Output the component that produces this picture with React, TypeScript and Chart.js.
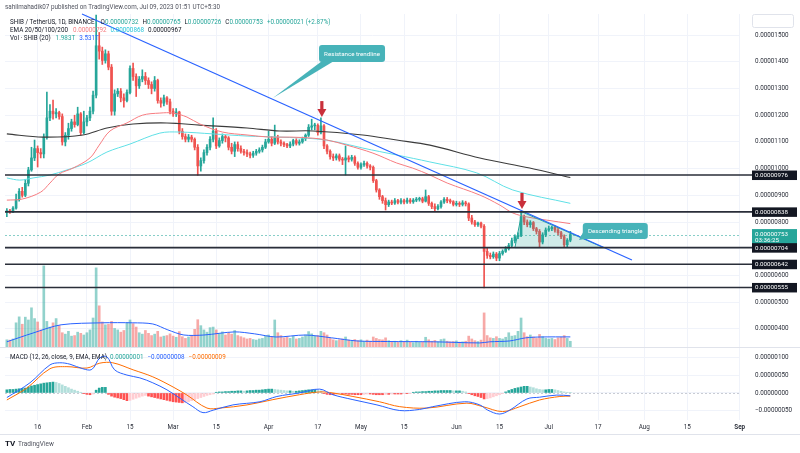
import React, { useEffect, useRef } from 'react';
import { Chart, registerables } from 'chart.js';

Chart.register(...registerables);

// Day index = days since 2023-01-01 (0 = Jan 1). First candle: Jan 6.
const FIRST_DAY = 5;

// Prices in units of 1e-8 USDT
const opens = [
  838, 842, 838, 852, 885, 915, 900, 945, 995, 1040,
  1075, 1060, 1055, 1118, 1190, 1215, 1205, 1210, 1195, 1100,
  1125, 1150, 1175, 1165, 1205, 1135, 1175, 1190, 1215, 1275,
  1460, 1440, 1405, 1430, 1380, 1215, 1280, 1290, 1265, 1255,
  1285, 1375, 1345, 1310, 1335, 1345, 1330, 1315, 1300, 1330,
  1255, 1245, 1265, 1250, 1215, 1205, 1212, 1140, 1120, 1110,
  1118, 1110, 1080, 1010, 1030, 1060, 1080, 1110, 1140, 1085,
  1105, 1120, 1115, 1080, 1065, 1090, 1075, 1065, 1060, 1055,
  1050, 1058, 1065, 1070, 1080, 1100, 1110, 1095, 1115, 1100,
  1095, 1090, 1085, 1092, 1105, 1095, 1100, 1112, 1125, 1155,
  1160, 1162, 1135, 1160, 1085, 1065, 1045, 1040, 1048, 1035,
  1032, 1040, 1035, 1042, 1020, 1005, 1015, 1020, 1010, 1005,
  955, 920, 895, 880, 865, 875, 871, 880, 874, 880,
  875, 882, 876, 882, 885, 887, 878, 895, 870, 858,
  850, 858, 875, 885, 880, 876, 866, 870, 866, 872,
  868, 815, 800, 790, 796, 784, 690, 675, 670, 680,
  665, 682, 690, 700, 712, 730, 745, 750, 820, 800,
  790, 798, 775, 765, 725, 752, 770, 775, 780, 770,
  760, 745, 715, 732,
];
const highs = [
  850, 848, 858, 905, 925, 930, 960, 1005, 1080, 1107,
  1085, 1075, 1130, 1287, 1240, 1257, 1225, 1215, 1205, 1135,
  1170, 1185, 1200, 1230, 1210, 1215, 1200, 1230, 1290, 1575,
  1510, 1455, 1445, 1440, 1390, 1295, 1300, 1300, 1280, 1295,
  1385, 1395, 1355, 1345, 1370, 1360, 1340, 1325, 1345, 1335,
  1265, 1275, 1270, 1260, 1225, 1225, 1215, 1150, 1130, 1128,
  1125, 1115, 1090, 1040, 1070, 1090, 1120, 1190, 1150, 1115,
  1130, 1125, 1120, 1095, 1100, 1100, 1085, 1072, 1070, 1062,
  1065, 1072, 1078, 1088, 1110, 1140, 1120, 1163, 1125, 1108,
  1100, 1095, 1100, 1110, 1112, 1108, 1118, 1130, 1165, 1185,
  1170, 1168, 1190, 1165, 1090, 1070, 1055, 1055, 1055, 1042,
  1085, 1048, 1050, 1048, 1025, 1022, 1028, 1025, 1015, 1010,
  960, 925, 900, 890, 882, 882, 888, 885, 888, 886,
  890, 888, 888, 892, 893, 893, 920, 900, 875, 868,
  865, 880, 892, 892, 886, 880, 878, 876, 880, 878,
  872, 825, 806, 800, 800, 790, 702, 684, 688, 686,
  690, 696, 708, 720, 740, 752, 760, 838, 826, 808,
  805, 802, 780, 772, 760, 778, 785, 785, 786, 778,
  765, 752, 738, 765,
];
const lows = [
  820, 832, 835, 848, 878, 893, 895, 935, 990, 1030,
  1006, 1040, 1040, 1110, 1180, 1185, 1190, 1185, 1088, 1085,
  1110, 1140, 1155, 1160, 1125, 1130, 1160, 1180, 1205, 1265,
  1410, 1390, 1395, 1370, 1200, 1200, 1270, 1250, 1230, 1250,
  1280, 1330, 1270, 1300, 1325, 1315, 1300, 1280, 1290, 1245,
  1230, 1235, 1240, 1205, 1195, 1195, 1130, 1110, 1100, 1100,
  1100, 1070, 975, 990, 1020, 1050, 1070, 1100, 1075, 1080,
  1095, 1100, 1070, 1055, 1045, 1065, 1058, 1050, 1045, 1040,
  1042, 1050, 1058, 1062, 1075, 1095, 1085, 1090, 1092, 1085,
  1082, 1078, 1078, 1085, 1088, 1088, 1095, 1105, 1120, 1145,
  1145, 1125, 1130, 1075, 1055, 1035, 1030, 1032, 1028, 1015,
  976, 1025, 1028, 1012, 998, 998, 1008, 1002, 995, 948,
  912, 885, 870, 845, 858, 865, 866, 868, 868, 868,
  870, 870, 870, 876, 878, 872, 875, 862, 850, 842,
  845, 852, 870, 872, 870, 860, 860, 858, 860, 860,
  805, 792, 784, 784, 778, 553, 664, 662, 664, 655,
  655, 676, 686, 695, 706, 722, 738, 745, 790, 782,
  780, 768, 755, 704, 718, 745, 765, 768, 762, 752,
  738, 706, 704, 726,
];
const closes = [
  842, 838, 852, 885, 915, 900, 945, 995, 1040, 1075,
  1060, 1055, 1118, 1190, 1215, 1205, 1210, 1195, 1100, 1125,
  1150, 1175, 1165, 1205, 1135, 1175, 1190, 1215, 1275, 1460,
  1440, 1405, 1430, 1380, 1215, 1280, 1290, 1265, 1255, 1285,
  1375, 1345, 1310, 1335, 1345, 1330, 1315, 1300, 1330, 1255,
  1245, 1265, 1250, 1215, 1205, 1212, 1140, 1120, 1110, 1118,
  1110, 1080, 1010, 1030, 1060, 1080, 1110, 1140, 1085, 1105,
  1120, 1115, 1080, 1065, 1090, 1075, 1065, 1060, 1055, 1050,
  1058, 1065, 1070, 1080, 1100, 1110, 1095, 1115, 1100, 1095,
  1090, 1085, 1092, 1105, 1095, 1100, 1112, 1125, 1155, 1160,
  1162, 1135, 1160, 1085, 1065, 1045, 1040, 1048, 1035, 1032,
  1040, 1035, 1042, 1020, 1005, 1015, 1020, 1010, 1005, 955,
  920, 895, 880, 865, 875, 871, 880, 874, 880, 875,
  882, 876, 882, 885, 887, 878, 895, 870, 858, 850,
  858, 875, 885, 880, 876, 866, 870, 866, 872, 868,
  815, 800, 790, 796, 784, 690, 675, 670, 680, 665,
  682, 690, 700, 712, 730, 745, 750, 820, 800, 790,
  798, 775, 765, 725, 752, 770, 775, 780, 770, 760,
  745, 715, 732, 753,
];

// Volume in trillions of SHIB
const volumes = [
  2.5, 2.4, 2.8, 8.5, 10.6, 8.0, 10.5, 9.5, 13.8, 10.0, 8.8, 6.0,
  28.6, 9.0, 7.0, 8.5, 10.0, 7.5, 5.0, 4.5, 5.5, 3.8, 4.0, 5.2,
  4.8, 4.2, 5.0, 6.0, 10.2, 27.9, 14.5, 8.8, 7.8, 8.0, 9.0, 6.5,
  6.0, 5.2, 5.8, 8.6, 9.5, 8.2, 7.0, 5.0, 4.5, 5.8, 4.8, 4.0,
  4.5, 5.5, 3.5, 3.8, 4.0, 4.6, 3.8, 3.4, 5.4, 3.6, 3.0, 3.5,
  4.0, 6.2, 9.6, 7.5, 6.0, 5.2, 6.8, 7.0, 6.0, 4.8, 5.3, 4.2,
  5.0, 4.5, 5.8, 4.0, 3.6, 3.2, 2.8, 3.0, 2.6, 2.4, 2.8, 3.0,
  3.9, 4.2, 3.6, 9.5, 5.0, 4.0, 3.2, 3.5, 3.0, 3.8, 2.8, 3.0,
  3.5, 4.2, 5.4, 4.6, 3.8, 4.0, 5.5, 5.0, 4.2, 3.0, 2.5, 2.2,
  2.5, 2.8, 3.5, 2.4, 2.0, 2.6, 2.2, 2.5, 2.0, 2.4, 2.0, 3.5,
  3.0, 2.6, 2.5, 3.2, 2.2, 1.8, 2.0, 1.6, 2.2, 1.8, 2.4, 1.8,
  1.5, 2.0, 1.6, 1.8, 3.4, 2.5, 2.0, 2.3, 1.8, 2.6, 2.8, 2.0,
  1.8, 1.9, 2.1, 1.7, 1.8, 2.0, 3.8, 2.8, 2.2, 1.9, 2.4, 12.0,
  4.0, 3.2, 3.0, 3.6, 3.0, 2.8, 3.4, 5.0, 3.8, 4.0, 5.5, 10.2,
  5.0, 3.6, 4.2, 3.5, 3.0, 4.4, 3.6, 3.0, 2.8, 3.0, 2.6, 3.2,
  3.4, 4.0, 3.0, 1.983,
];
const volumeMA: [number, number][] = [
  [5, 1.8], [13.5, 4.9], [22.6, 7.8], [35.9, 8.5], [45.9, 8.5], [52.4, 8.1], [57.3, 6.0],
  [62.5, 4.2], [69, 4.2], [79, 5.3], [85.5, 4.6], [92.4, 3.5], [102, 4.2], [110.5, 3.2],
  [118.7, 2.1], [128.7, 1.9], [143.7, 1.8], [158.6, 1.4], [161.8, 1.8], [168.3, 2.1],
  [173.5, 3.2], [178.4, 3.5], [188, 3.531],
];

// EMA curves: [day, price e-8]
const ema20: [number, number][] = [
  [5, 882], [10, 886], [16, 912], [19, 946], [22, 980], [26.5, 1002], [32, 1040], [35, 1088],
  [38.5, 1141], [44, 1171], [49, 1200], [54.7, 1208], [59, 1208], [63.5, 1193], [67.7, 1167],
  [75, 1137], [83, 1126], [90.4, 1118], [97, 1118], [104.4, 1114], [109, 1107], [115.4, 1088],
  [123.9, 1058], [131.6, 1021], [136.8, 1002], [142.4, 976], [148, 946], [158.6, 901],
  [165, 864], [169.3, 834], [173.9, 819], [180.4, 807], [188, 794],
];
const ema50: [number, number][] = [
  [5, 965], [9.2, 957], [13.5, 965], [19, 976], [24.5, 995], [31, 1021], [37.5, 1062],
  [45, 1092], [54.7, 1133], [61, 1137], [71.9, 1130], [83, 1122], [93.7, 1118], [105.7, 1111],
  [112, 1100], [120.6, 1077], [131.6, 1051], [142.4, 1025], [157.6, 984], [169.3, 920], [188, 870],
];
const emaSlow: [number, number][] = [
  [5, 1130], [16.7, 1118], [29.7, 1126], [37.5, 1152], [46, 1167], [57, 1171], [67.7, 1163],
  [83, 1152], [93.7, 1141], [104.4, 1141], [120.6, 1126], [131.6, 1107], [142.4, 1088],
  [158.6, 1040], [174.8, 1002], [188, 967],
];

// MACD pane (units of 1e-8)
const macdLine: [number, number][] = [
  [5, -13], [12.5, 29], [19, 80], [22.2, 86], [25.5, 82], [29.7, 69], [32.6, 67], [35.2, 100],
  [37.5, 103], [40, 66], [44, 51], [48.2, 43], [52.4, 29], [57, 9], [61.2, -15], [65.4, -39],
  [68.7, -56], [72, -49], [78.4, -34], [87.2, -25], [92.7, -10], [100, 0], [106.6, 11],
  [110.9, -5], [117.4, -19], [125.2, -34], [132.6, -50], [139, -47], [143.3, -39], [153.7, -25],
  [158.6, -34], [161.2, -49], [165, -60], [168.3, -49], [173.9, -17], [178, -12], [183.6, -6], [188, -8],
];
const signalLine: [number, number][] = [
  [5, -20], [11.5, 14], [19, 69], [24.5, 75], [31, 71], [35.2, 85], [39.4, 86], [46, 66],
  [52.4, 46], [59, 17], [63.5, -6], [70, -43], [74.2, -43], [83, -34], [91.4, -19], [100, -5],
  [106.6, 3], [110.9, 0], [117.4, -10], [126, -25], [132.6, -39], [141.4, -43], [154.4, -29],
  [159.6, -39], [166, -53], [171.6, -39], [178, -20], [184.6, -10], [188, -9],
];
const macdHist = [
  9, 10, 10, 11, 12, 13, 14,
  17, 20, 22, 24, 26, 28, 29, 30,
  31, 30,
  27, 23, 19, 15, 11, 8,
  5, 2,
  -2, -4, -5, -3,
  8, 14, 16, 16,
  -4, -9, -12, -14, -16, -19, -22, -21, -18, -15, -12, -9, -7,
  -9, -11, -13, -15, -17, -19, -21, -23, -25, -26, -27, -28,
  -27, -25, -22, -19, -16, -13, -10, -7, -5, -3,
  2, 3, 3, 4, 4, 5, 5, 6, 6, 5, 6, 7, 7, 8, 8, 9,
  10, 11, 11, 10,
  9, 8, 7, 6, 6, 5, 5, 6,
  7, 8, 9, 9, 9,
  8, 6,
  -2, -4, -5, -5, -4, -3, -3,
  -3, -4, -4, -5, -5, -5, -4, -3, -3, -4, -5, -5, -5, -4, -4, -3, -3, -3,
  -3, -2, -2, -1,
  2, 3, 3, 4, 4, 5, 5, 6, 6,
  7, 7, 7, 7, 6, 6, 6, 5,
  3, -2, -5,
  -8, -10, -13, -17,
  -16, -14, -11, -8, -5, -2,
  3, 7, 10, 13, 15, 17, 19, 19,
  17, 15, 12, 10, 9,
  9, 10, 10, 9,
  7, 5, 3, 2, 1,
];

const timeTickDays = [15, 31, 45, 59, 73, 90, 106, 120, 134, 151, 165, 181, 197, 212, 226, 243];
const timeTickLabels = ['16', 'Feb', '15', 'Mar', '15', 'Apr', '17', 'May', '15', 'Jun', '15', 'Jul', '17', 'Aug', '15', 'Sep'];
const priceTicks = [400, 500, 600, 700, 800, 900, 1000, 1100, 1200, 1300, 1400, 1500];
const macdTicks = [-50, 0, 50, 100];

const levelPrices = [976, 838, 704, 642, 555];
const lastPrice = 753;
const trendline: [number, number][] = [[29.4, 1579], [208, 658]];
const triangle: [number, number][] = [[172.3, 838], [170, 704], [198.8, 704]];
const arrowTips: [number, number][] = [[107.3, 1193], [172.3, 849]];

const FAMILY = 'Roboto, "Liberation Sans", Arial, sans-serif';
const UP = '#26a69a';
const DOWN = '#ef5350';
const DARK = '#131722';
const CALLOUT = '#47b3b9';

const fmtPrice = (v: number) => (v * 1e-8).toFixed(8);
const fmtMacd = (v: number) => (v < 0 ? '\u2212' + (Math.abs(v) * 1e-8).toFixed(8) : (v * 1e-8).toFixed(8));

function rrect(ctx: any, x: number, y: number, w: number, h: number, r: number) {
  ctx.beginPath();
  ctx.moveTo(x + r, y);
  ctx.lineTo(x + w - r, y);
  ctx.quadraticCurveTo(x + w, y, x + w, y + r);
  ctx.lineTo(x + w, y + h - r);
  ctx.quadraticCurveTo(x + w, y + h, x + w - r, y + h);
  ctx.lineTo(x + r, y + h);
  ctx.quadraticCurveTo(x, y + h, x, y + h - r);
  ctx.lineTo(x, y + r);
  ctx.quadraticCurveTo(x, y, x + r, y);
  ctx.closePath();
}

function run(ctx: any, x: number, y: number, parts: [string, string, number][]) {
  for (const [t, c, g] of parts) {
    ctx.fillStyle = c;
    ctx.fillText(t, x, y);
    x += ctx.measureText(t).width + g;
  }
}

const tvPlugin = {
  id: 'tvDrawings',
  beforeDatasetsDraw(chart: any) {
    const { ctx, chartArea, scales } = chart;
    const ys = scales.y, ym = scales.yMacd;
    ctx.save();
    ctx.lineWidth = 1;
    ctx.setLineDash([2, 2]);
    const yc = Math.round(ys.getPixelForValue(lastPrice)) + 0.5;
    ctx.strokeStyle = 'rgba(38,166,154,0.55)';
    ctx.beginPath();
    ctx.moveTo(chartArea.left, yc);
    ctx.lineTo(chartArea.right, yc);
    ctx.stroke();
    const y0 = Math.round(ym.getPixelForValue(0)) + 0.5;
    ctx.strokeStyle = '#c9ccd4';
    ctx.beginPath();
    ctx.moveTo(chartArea.left, y0);
    ctx.lineTo(chartArea.right, y0);
    ctx.stroke();
    ctx.restore();
  },
  afterDatasetsDraw(chart: any) {
    const { ctx, chartArea, scales } = chart;
    const xs = scales.x, ys = scales.y, ym = scales.yMacd;
    const px = (d: number) => xs.getPixelForValue(d);
    const py = (p: number) => ys.getPixelForValue(p);
    ctx.save();

    // Descending triangle
    ctx.beginPath();
    triangle.forEach(([d, p], i) => (i ? ctx.lineTo(px(d), py(p)) : ctx.moveTo(px(d), py(p))));
    ctx.closePath();
    ctx.fillStyle = 'rgba(38,166,154,0.22)';
    ctx.fill();
    ctx.strokeStyle = UP;
    ctx.lineWidth = 1;
    ctx.stroke();

    // Resistance trendline
    ctx.strokeStyle = '#2962ff';
    ctx.lineWidth = 1.2;
    ctx.beginPath();
    ctx.moveTo(px(trendline[0][0]), py(trendline[0][1]));
    ctx.lineTo(px(trendline[1][0]), py(trendline[1][1]));
    ctx.stroke();

    // Horizontal levels
    ctx.strokeStyle = '#2a2e39';
    ctx.lineWidth = 1.6;
    for (const lv of levelPrices) {
      const yy = py(lv);
      ctx.beginPath();
      ctx.moveTo(chartArea.left, yy);
      ctx.lineTo(752, yy);
      ctx.stroke();
    }

    // Red arrows
    ctx.fillStyle = '#c9303b';
    for (const [d, p] of arrowTips) {
      const ax = px(d), ay = py(p);
      ctx.fillRect(ax - 1.6, ay - 16, 3.2, 9);
      ctx.beginPath();
      ctx.moveTo(ax - 4.5, ay - 8);
      ctx.lineTo(ax + 4.5, ay - 8);
      ctx.lineTo(ax, ay);
      ctx.closePath();
      ctx.fill();
    }

    // Callouts
    const callouts = [
      { text: 'Resistance trendline', cx: px(117.1), cy: py(1431), w: 66, h: 17, tx: px(91.4), ty: py(1264), a: [3, 0], b: [15, 0] },
      { text: 'Descending triangle', cx: px(202.6), cy: py(766), w: 65, h: 16, tx: px(190.8), ty: py(733), a: [1, -7], b: [8, 0] },
    ];
    ctx.font = `6.2px ${FAMILY}`;
    ctx.textAlign = 'center';
    ctx.textBaseline = 'middle';
    for (const c of callouts) {
      const l = c.cx - c.w / 2, t = c.cy - c.h / 2, btm = t + c.h;
      ctx.fillStyle = CALLOUT;
      ctx.beginPath();
      ctx.moveTo(l + c.a[0], btm + c.a[1] - 1);
      ctx.lineTo(l + c.b[0], btm + c.b[1] - 1);
      ctx.lineTo(c.tx, c.ty);
      ctx.closePath();
      ctx.fill();
      rrect(ctx, l, t, c.w, c.h, 3);
      ctx.fill();
      ctx.fillStyle = '#ffffff';
      ctx.fillText(c.text, c.cx, c.cy + 0.5);
    }

    // Price axis labels
    ctx.textAlign = 'left';
    ctx.font = `6.2px ${FAMILY}`;
    const yc = py(lastPrice);
    ctx.fillStyle = UP;
    ctx.fillRect(752, yc - 5.5, 45, 16.5);
    ctx.fillStyle = '#ffffff';
    ctx.fillText(fmtPrice(lastPrice), 755, yc - 0.6);
    ctx.fillText('03:36:25', 755, yc + 6.2);
    for (const lv of levelPrices) {
      const yy = py(lv);
      ctx.fillStyle = DARK;
      ctx.fillRect(752, yy - 4.5, 45, 9.5);
      ctx.fillStyle = '#ffffff';
      ctx.fillText(fmtPrice(lv), 755, yy + 0.3);
    }

    // Pane separators / frame
    ctx.strokeStyle = '#e0e3eb';
    ctx.lineWidth = 1;
    const sep = Math.round(ym.top) + 0.5;
    ctx.beginPath();
    ctx.moveTo(0, sep);
    ctx.lineTo(800, sep);
    ctx.moveTo(0, 434.5);
    ctx.lineTo(800, 434.5);
    ctx.stroke();
    rrect(ctx, 752.5, 14.5, 41, 13, 2);
    ctx.stroke();

    // Header and legends
    ctx.textBaseline = 'middle';
    ctx.font = `6.3px ${FAMILY}`;
    ctx.fillStyle = '#50535e';
    ctx.fillText('sahilmahadik07 published on TradingView.com, Jul 09, 2023 01:51 UTC+5:30', 5, 7.5);
    run(ctx, 10, 22.5, [
      ['SHIB / TetherUS, 1D, BINANCE', DARK, 6],
      ['O', DARK, 0], ['0.00000732', UP, 4],
      ['H', DARK, 0], ['0.00000765', UP, 4],
      ['L', DARK, 0], ['0.00000726', UP, 4],
      ['C', DARK, 0], ['0.00000753', UP, 4],
      ['+0.00000021 (+2.87%)', UP, 0],
    ]);
    run(ctx, 10, 30.5, [
      ['EMA 20/50/100/200', DARK, 5],
      ['0.00000792', '#f77c80', 4],
      ['0.00000868', '#26c6da', 4],
      ['0.00000967', DARK, 0],
    ]);
    run(ctx, 10, 38.5, [
      ['Vol \u00b7 SHIB (20)', DARK, 5],
      ['1.983T', UP, 4],
      ['3.531T', '#2962ff', 0],
    ]);
    run(ctx, 10, ym.top + 10, [
      ['MACD (12, 26, close, 9, EMA, EMA)', DARK, 3],
      ['0.00000001', UP, 4],
      ['\u22120.00000008', '#2962ff', 4],
      ['\u22120.00000009', '#ff6d00', 0],
    ]);

    // TradingView mark
    ctx.font = `bold 8px ${FAMILY}`;
    ctx.fillStyle = DARK;
    ctx.fillText('TV', 5, 444);
    ctx.font = `6.5px ${FAMILY}`;
    ctx.fillStyle = '#50535e';
    ctx.fillText('TradingView', 18, 444);

    ctx.restore();
  },
};

export default function App() {
  const ref = useRef<HTMLCanvasElement>(null);

  useEffect(() => {
    document.body.style.margin = '0';
    const canvas = ref.current as HTMLCanvasElement;
    const days = closes.map((_, i) => FIRST_DAY + i);
    const isUp = closes.map((c, i) => c >= opens[i]);
    const candleColors = isUp.map((u) => (u ? UP : DOWN));
    const volColors = isUp.map((u) => (u ? 'rgba(38,166,154,0.5)' : 'rgba(239,83,80,0.5)'));
    const histColors = macdHist.map((v, i) => {
      const prev = i > 0 ? macdHist[i - 1] : v;
      if (v >= 0) return v >= prev ? '#26a69a' : '#b2dfdb';
      return v <= prev ? '#ff5252' : '#ffcdd2';
    });
    const pts = (arr: [number, number][]) => arr.map(([x, y]) => ({ x, y }));
    const tickFont = { size: 6.3, family: FAMILY };
    const yFit = (s: any) => {
      s.width = 60;
      s.paddingTop = 0;
      s.paddingBottom = 0;
    };

    const chart = new Chart(canvas, {
      type: 'bar',
      data: {
        datasets: [
          { type: 'line', label: 'EMA 20', data: pts(ema20), borderColor: '#f77c80', borderWidth: 1, pointRadius: 0, tension: 0.35, yAxisID: 'y', order: 1 },
          { type: 'line', label: 'EMA 50', data: pts(ema50), borderColor: '#5fe0e6', borderWidth: 1, pointRadius: 0, tension: 0.35, yAxisID: 'y', order: 2 },
          { type: 'line', label: 'EMA slow', data: pts(emaSlow), borderColor: '#3b3b3b', borderWidth: 1.1, pointRadius: 0, tension: 0.35, yAxisID: 'y', order: 3 },
          { type: 'bar', label: 'Body', data: days.map((d, i) => ({ x: d, y: [opens[i], closes[i]] })), backgroundColor: candleColors, barThickness: 2, minBarLength: 1, grouped: false, yAxisID: 'y', order: 4 },
          { type: 'bar', label: 'Wick', data: days.map((d, i) => ({ x: d, y: [lows[i], highs[i]] })), backgroundColor: candleColors, barThickness: 1, grouped: false, yAxisID: 'y', order: 5 },
          { type: 'line', label: 'Vol MA', data: pts(volumeMA), borderColor: '#2962ff', borderWidth: 1, pointRadius: 0, tension: 0.3, yAxisID: 'yVol', order: 6 },
          { type: 'bar', label: 'Volume', data: days.map((d, i) => ({ x: d, y: volumes[i] })), backgroundColor: volColors, barThickness: 2, grouped: false, yAxisID: 'yVol', order: 7 },
          { type: 'line', label: 'MACD', data: pts(macdLine), borderColor: '#2962ff', borderWidth: 1, pointRadius: 0, tension: 0.35, yAxisID: 'yMacd', order: 1 },
          { type: 'line', label: 'Signal', data: pts(signalLine), borderColor: '#ff6d00', borderWidth: 1, pointRadius: 0, tension: 0.35, yAxisID: 'yMacd', order: 2 },
          { type: 'bar', label: 'Histogram', data: days.map((d, i) => ({ x: d, y: macdHist[i] })), backgroundColor: histColors, barThickness: 2, grouped: false, yAxisID: 'yMacd', order: 8 },
        ],
      } as any,
      options: {
        responsive: false,
        animation: false,
        devicePixelRatio: 1,
        events: [],
        layout: { padding: { left: 5, top: 14, right: 0, bottom: 19 }, autoPadding: false },
        plugins: { legend: { display: false }, tooltip: { enabled: false } },
        scales: {
          x: {
            type: 'linear',
            offset: false,
            min: 4.4,
            max: 243.1,
            grid: { color: '#f0f3fa', drawTicks: false, offset: false },
            border: { display: false },
            afterBuildTicks: (s: any) => {
              s.ticks = timeTickDays.map((v) => ({ value: v }));
            },
            afterFit: (s: any) => {
              s.height = 14;
              s.paddingLeft = 0;
              s.paddingRight = 0;
            },
            ticks: {
              autoSkip: false,
              maxRotation: 0,
              padding: 4,
              color: '#2a2e39',
              font: (c: any) => ({ size: 6.3, family: FAMILY, weight: c.tick && c.tick.value === 243 ? 'bold' : 'normal' }),
              callback: (_v: any, i: number) => timeTickLabels[i],
            },
          },
          y: {
            type: 'linear',
            position: 'right',
            stack: 'panes',
            stackWeight: 333,
            min: 332,
            max: 1579,
            grid: { color: '#f0f3fa', drawTicks: false },
            border: { display: false },
            afterBuildTicks: (s: any) => {
              s.ticks = priceTicks.map((v) => ({ value: v }));
            },
            afterFit: yFit,
            ticks: { padding: 15, color: '#2a2e39', font: tickFont, callback: (v: any) => fmtPrice(Number(v)) },
          },
          yMacd: {
            type: 'linear',
            position: 'right',
            stack: 'panes',
            stackWeight: 73,
            min: -77,
            max: 131,
            grid: { color: '#f0f3fa', drawTicks: false },
            border: { display: false },
            afterBuildTicks: (s: any) => {
              s.ticks = macdTicks.map((v) => ({ value: v }));
            },
            afterFit: yFit,
            ticks: { padding: 15, color: '#2a2e39', font: tickFont, callback: (v: any) => fmtMacd(Number(v)) },
          },
          yVol: {
            type: 'linear',
            position: 'right',
            display: false,
            min: -25.8,
            max: 117.5,
          },
        },
      } as any,
      plugins: [tvPlugin],
    });

    return () => chart.destroy();
  }, []);

  return <canvas ref={ref} width={800} height={453} style={{ display: 'block', width: 800, height: 453 }} />;
}
